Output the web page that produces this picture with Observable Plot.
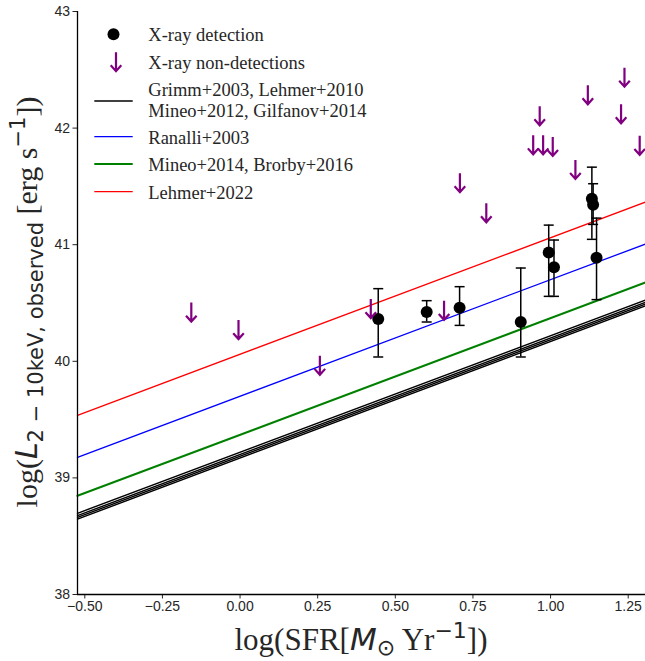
<!DOCTYPE html>
<html>
<head>
<meta charset="utf-8">
<script src="https://cdn.jsdelivr.net/npm/d3@7"></script>
<script src="https://cdn.jsdelivr.net/npm/@observablehq/plot@0.6"></script>
<style>
  body { margin: 0; background: #fff; }
  svg text { white-space: pre; }
</style>
</head>
<body>
<div id="chart"></div>
<script>
// X-ray detections: log SFR, log L(2-10 keV) and the ends of each error bar
const detSFR = [0.445, 0.601, 0.707, 0.904, 0.994, 1.011, 1.133, 1.137, 1.148];
const detL   = [40.362, 40.422, 40.460, 40.337, 40.934, 40.806, 41.394, 41.343, 40.889];
const detLo  = [40.037, 40.337, 40.308, 40.037, 40.557, 40.557, 41.046, 41.174, 40.529];
const detHi  = [40.623, 40.520, 40.640, 40.800, 41.168, 41.040, 41.665, 41.523, 41.228];

// X-ray non-detections (upper limits)
const ulSFR = [-0.157, -0.005, 0.257, 0.421, 0.657, 0.708, 0.793, 0.944, 0.965, 0.976, 1.007, 1.080, 1.120, 1.227, 1.238, 1.287];
const ulL   = [40.422, 40.272, 39.966, 40.452, 40.437, 41.532, 41.274, 41.857, 42.106, 41.857, 41.843, 41.646, 42.286, 42.123, 42.437, 41.852];

// Linear L_X–SFR scaling relations: log L = log SFR + norm
const relNames = ["Grimm+2003", "Lehmer+2010", "Mineo+2012", "Gilfanov+2014", "Ranalli+2003", "Mineo+2014, Brorby+2016", "Lehmer+2022"];
const relNorm  = [39.22, 39.20, 39.185, 39.17, 39.70, 39.37, 40.06];
const relGroup = ["local", "local", "local", "local", "ranalli", "mineo", "lehmer22"];

// Legend entries
const legendLabels = [
  ["X-ray detection"],
  ["X-ray non-detections"],
  ["Grimm+2003, Lehmer+2010", "Mineo+2012, Gilfanov+2014"],
  ["Ranalli+2003"],
  ["Mineo+2014, Brorby+2016"],
  ["Lehmer+2022"]
];

// Axes
const xDomain = [-0.5235, 1.3057];
const yDomain = [38, 43];
const xTicks = [-0.5, -0.25, 0, 0.25, 0.5, 0.75, 1.0, 1.25];
const yTicks = [38, 39, 40, 41, 42, 43];

const groupStyle = {
  local:    {stroke: "black",   width: 1.4},
  ranalli:  {stroke: "#0000ff", width: 1.3},
  mineo:    {stroke: "#008000", width: 2.1},
  lehmer22: {stroke: "#ff0000", width: 1.3}
};
const purple = "#800080";
const ink = "#262626";
const serif = "'Liberation Serif', 'Times New Roman', serif";
const sans = "'DejaVu Sans', sans-serif";

const detections = detSFR.map((x, i) => ({x, y: detL[i], lo: detLo[i], hi: detHi[i]}));
const limits = ulSFR.map((x, i) => ({x, y: ulL[i]}));

// Symbols drawn with the dot mark
const capSymbol = {draw(ctx) { ctx.moveTo(-5, 0); ctx.lineTo(5, 0); }};
const arrowPath = "M0,-9.5L0,9.5M-5.3,3.6L0,9.5L5.3,3.6";
const arrowSymbol = {
  draw(ctx) {
    ctx.moveTo(0, -9.5); ctx.lineTo(0, 9.5);
    ctx.moveTo(-5.3, 3.6); ctx.lineTo(0, 9.5); ctx.lineTo(5.3, 3.6);
  }
};

const relationMarks = relNames.map((name, i) => {
  const s = groupStyle[relGroup[i]];
  const rows = xDomain.map(x => ({x, y: x + relNorm[i]}));
  return Plot.line(rows, {x: "x", y: "y", stroke: s.stroke, strokeWidth: s.width});
});

const chart = Plot.plot({
  width: 645,
  height: 661,
  marginLeft: 77,
  marginRight: 0,
  marginTop: 11,
  marginBottom: 67,
  style: {fontFamily: "'Liberation Sans', Arial, sans-serif", fontSize: "14px", color: ink, background: "white", overflow: "visible"},
  x: {domain: xDomain, ticks: xTicks, tickFormat: d3.format(".2f"), tickSize: 4.5, tickPadding: 2.5, label: null},
  y: {domain: yDomain, ticks: yTicks, tickFormat: d3.format("d"), tickSize: 4.5, tickPadding: 3, label: null},
  marks: [
    ...relationMarks,
    Plot.ruleX(detections, {x: "x", y1: "lo", y2: "hi", stroke: "black", strokeWidth: 1.5}),
    Plot.dot(detections, {x: "x", y: "lo", symbol: capSymbol, stroke: "black", strokeWidth: 1.5, fill: "none"}),
    Plot.dot(detections, {x: "x", y: "hi", symbol: capSymbol, stroke: "black", strokeWidth: 1.5, fill: "none"}),
    Plot.dot(detections, {x: "x", y: "y", r: 6, fill: "black", stroke: "none"}),
    Plot.dot(limits, {x: "x", y: "y", symbol: arrowSymbol, stroke: purple, strokeWidth: 2.2, fill: "none"}),
    Plot.ruleX([xDomain[0]], {stroke: "black", strokeWidth: 1.3}),
    Plot.ruleY([yDomain[0]], {stroke: "black", strokeWidth: 1.3})
  ]
});
document.getElementById("chart").appendChild(chart);

const svg = d3.select(chart);

// Legend in the upper-left corner of the axes
const legend = svg.append("g");
const rowY = [34.3, 61.7, 101, 136.7, 164, 191.7];
const handleX = 113.5, textX = 148.3;
legend.append("circle").attr("cx", handleX).attr("cy", rowY[0]).attr("r", 6).attr("fill", "black");
legend.append("path").attr("transform", `translate(${handleX + 2.5},${rowY[1]})`)
  .attr("d", arrowPath)
  .attr("fill", "none").attr("stroke", purple).attr("stroke-width", 2.2);
const lineStyles = [groupStyle.local, groupStyle.ranalli, groupStyle.mineo, groupStyle.lehmer22];
lineStyles.forEach((s, k) => {
  legend.append("line").attr("x1", 94.3).attr("x2", 132.7)
    .attr("y1", rowY[k + 2]).attr("y2", rowY[k + 2])
    .attr("stroke", s.stroke).attr("stroke-width", s.width);
});
legendLabels.forEach((lines, k) => {
  const y0 = lines.length === 1 ? rowY[k] + 6.8 : rowY[k] - 5.3;
  lines.forEach((t, j) => {
    legend.append("text").attr("x", textX).attr("y", y0 + j * 21)
      .style("font-family", serif).style("font-size", "18.5px")
      .style("fill", ink).style("text-anchor", "start")
      .text(t);
  });
});

// Axis titles with mixed text and math styling
const xl = svg.append("text").attr("x", 361).attr("y", 650)
  .style("text-anchor", "middle").style("font-family", serif).style("font-size", "31px").style("fill", ink);
xl.append("tspan").text("log(SFR[");
xl.append("tspan").style("font-family", sans).style("font-style", "italic").text("M");
xl.append("tspan").style("font-family", sans).style("font-size", "22px").attr("dy", 5).text("⊙");
xl.append("tspan").attr("dy", -5).text(" Yr");
xl.append("tspan").style("font-family", sans).style("font-size", "22px").attr("dy", -12).text("−1");
xl.append("tspan").attr("dy", 12).text("])");

const yl = svg.append("text").attr("transform", "translate(37,302) rotate(-90)")
  .style("text-anchor", "middle").style("font-family", serif).style("font-size", "30px").style("fill", ink);
yl.append("tspan").text("log(");
yl.append("tspan").style("font-family", sans).style("font-style", "italic").text("L");
yl.append("tspan").style("font-family", sans).style("font-size", "21px").attr("dy", 6).text("2 − 10keV, observed");
yl.append("tspan").attr("dy", -6).text(" [erg s");
yl.append("tspan").style("font-family", sans).style("font-size", "21px").attr("dy", -12).text("−1");
yl.append("tspan").attr("dy", 12).text("])");
</script>
</body>
</html>
